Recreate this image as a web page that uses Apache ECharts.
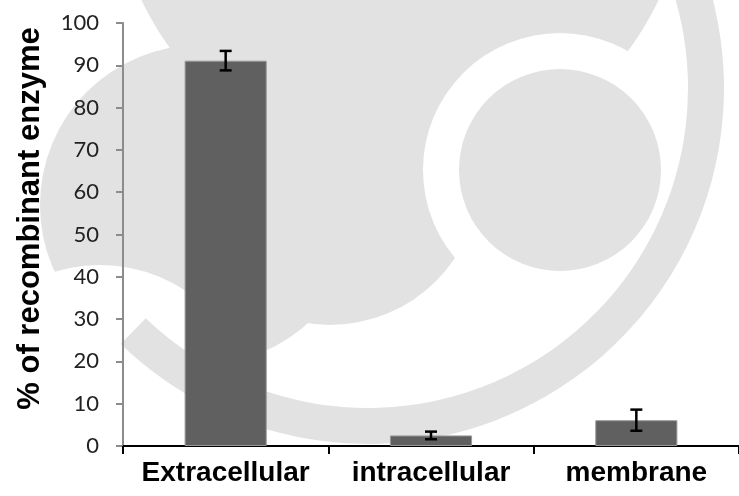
<!DOCTYPE html>
<html>
<head>
<meta charset="utf-8">
<script src="https://cdn.jsdelivr.net/npm/echarts@6/dist/echarts.min.js"></script>
<style>
html,body{margin:0;padding:0;background:#fff;}
#chart{width:739px;height:496px;}
</style>
</head>
<body>
<div id="chart"></div>
<script>
const categories = ['Extracellular', 'intracellular', 'membrane'];
const values = [91.1, 2.5, 6.1];
const errors = [2.3, 0.9, 2.5];
const yTicks = [0, 10, 20, 30, 40, 50, 60, 70, 80, 90, 100];

const chart = echarts.init(document.getElementById('chart'));
const wm = '#e2e2e2';
const deg = Math.PI / 180;
const errData = values.map((v, i) => [i, v - errors[i], v + errors[i]]);

chart.setOption({
  animation: false,
  backgroundColor: '#fff',
  graphic: [
    { type: 'circle', z: -100, silent: true, shape: { cx: 400, cy: -120, r: 285 }, style: { fill: wm } },
    { type: 'circle', z: -100, silent: true, shape: { cx: 200, cy: 205, r: 160 }, style: { fill: wm } },
    { type: 'circle', z: -100, silent: true, shape: { cx: 330, cy: 175, r: 150 }, style: { fill: wm } },
    { type: 'circle', z: -99, silent: true, shape: { cx: 100, cy: 420, r: 155 }, style: { fill: '#fff' } },
    { type: 'circle', z: -98, silent: true, shape: { cx: 560, cy: 170, r: 137 }, style: { fill: '#fff' } },
    { type: 'circle', z: -97, silent: true, shape: { cx: 560, cy: 170, r: 101 }, style: { fill: wm } },
    { type: 'sector', z: -96, silent: true,
      shape: { cx: 368, cy: 88, r: 356, r0: 320, startAngle: -30 * deg, endAngle: 134 * deg, clockwise: true },
      style: { fill: wm } }
  ],
  grid: { left: 123, right: -8, top: 23, bottom: 50, containLabel: false },
  xAxis: {
    type: 'category',
    data: categories,
    boundaryGap: true,
    axisLine: { lineStyle: { color: '#000', width: 2 } },
    axisTick: { show: true, length: 8, lineStyle: { color: '#000', width: 2 } },
    axisLabel: { interval: 0, color: '#000', fontFamily: 'Liberation Sans, Arial', fontWeight: 'bold', fontSize: 28, margin: 13 },
    splitLine: { show: false }
  },
  yAxis: {
    type: 'value',
    min: 0, max: 100, interval: 10,
    name: '% of recombinant enzyme',
    nameLocation: 'middle',
    nameGap: 77,
    nameRotate: 90,
    nameTextStyle: { color: '#000', fontFamily: 'Liberation Sans, Arial', fontWeight: 'bold', fontSize: 31, padding: [0, 0, 0, 32] },
    axisLine: { show: true, lineStyle: { color: '#8c8c8c', width: 2 } },
    axisTick: { show: true, length: 7, lineStyle: { color: '#8c8c8c', width: 2 } },
    axisLabel: { color: '#222', fontFamily: 'Lato, Open Sans', fontSize: 22, margin: 24,
      formatter: v => (yTicks.indexOf(v) >= 0 ? String(v) : '') },
    splitLine: { show: false }
  },
  series: [
    {
      type: 'bar',
      data: values,
      barWidth: '40%',
      itemStyle: { color: '#606060', borderColor: '#9a9a9a', borderWidth: 1 }
    },
    {
      type: 'custom',
      data: errData,
      z: 5,
      renderItem: function (params, api) {
        const i = api.value(0);
        const lo = api.coord([i, api.value(1)]);
        const hi = api.coord([i, api.value(2)]);
        const hw = 6;
        const st = { stroke: '#000', lineWidth: 2.5 };
        return {
          type: 'group',
          children: [
            { type: 'line', shape: { x1: lo[0], y1: lo[1], x2: hi[0], y2: hi[1] }, style: st },
            { type: 'line', shape: { x1: hi[0] - hw, y1: hi[1], x2: hi[0] + hw, y2: hi[1] }, style: st },
            { type: 'line', shape: { x1: lo[0] - hw, y1: lo[1], x2: lo[0] + hw, y2: lo[1] }, style: st }
          ]
        };
      }
    }
  ]
});
</script>
</body>
</html>
